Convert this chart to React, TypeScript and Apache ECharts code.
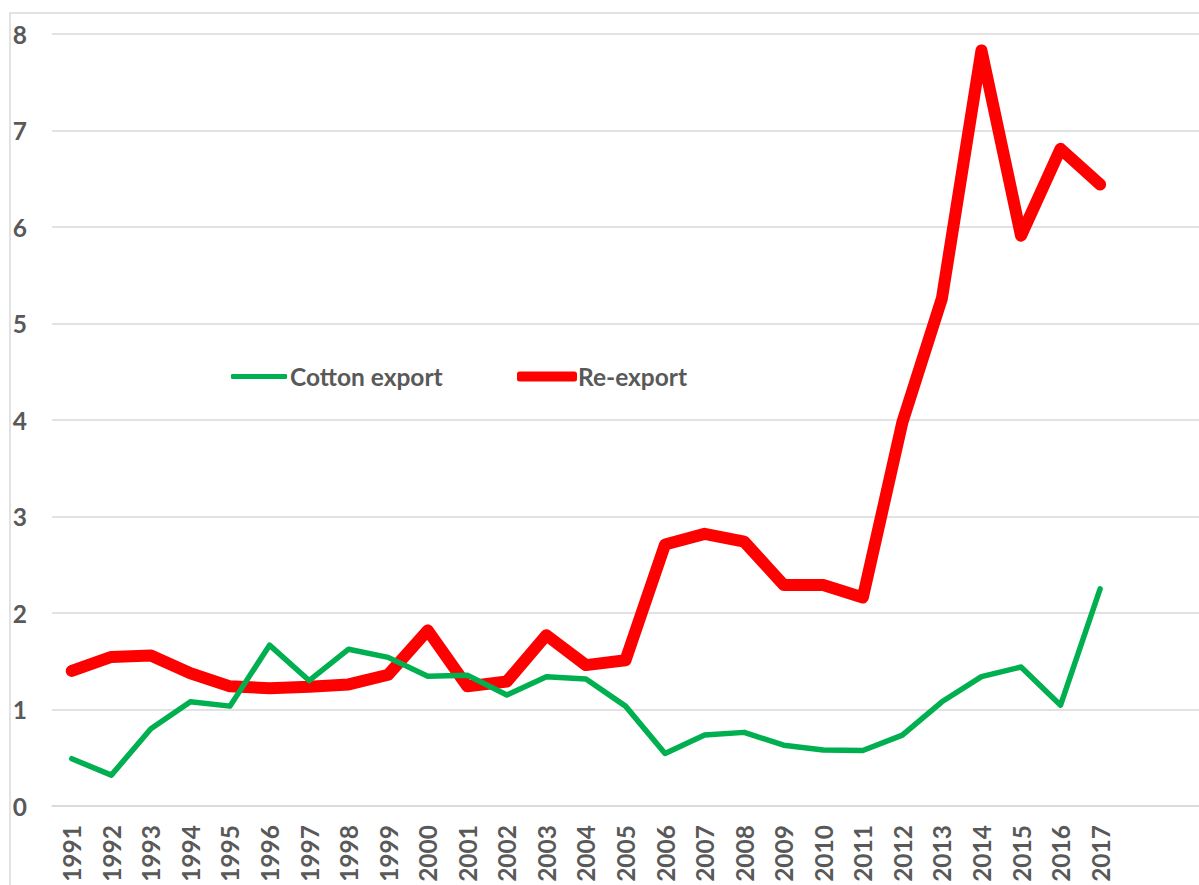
import React, { useEffect, useRef } from "react";
import * as echarts from "echarts";

const years = [
  "1991", "1992", "1993", "1994", "1995", "1996", "1997", "1998", "1999", "2000",
  "2001", "2002", "2003", "2004", "2005", "2006", "2007", "2008", "2009", "2010",
  "2011", "2012", "2013", "2014", "2015", "2016", "2017", "", "",
];

const cottonExport = [
  0.49, 0.32, 0.8, 1.08, 1.035, 1.667, 1.3, 1.625, 1.54, 1.345,
  1.356, 1.15, 1.34, 1.315, 1.035, 0.545, 0.735, 0.763, 0.63, 0.58,
  0.575, 0.735, 1.08, 1.34, 1.44, 1.045, 2.25,
];

const reExport = [
  1.4, 1.545, 1.56, 1.375, 1.24, 1.22, 1.235, 1.26, 1.36, 1.82,
  1.24, 1.29, 1.77, 1.46, 1.51, 2.71, 2.82, 2.74, 2.29, 2.29,
  2.16, 3.975, 5.26, 7.83, 5.91, 6.81, 6.44,
];

const yTicks = { min: 0, max: 8, interval: 1 };

const FONT = "Lato";
const FONT_SIZE = 24.5;
const LABEL_COLOR = "#595959";
const GRID_COLOR = "#d9d9d9";

export default function App() {
  const ref = useRef<HTMLDivElement>(null);

  useEffect(() => {
    if (!ref.current) return;
    const chart = echarts.init(ref.current, undefined, { renderer: "svg" });
    chart.setOption({
      animation: false,
      backgroundColor: "#ffffff",
      textStyle: { fontFamily: FONT },
      graphic: [
        {
          type: "rect",
          shape: { x: 10, y: 13, width: 1400, height: 1000 },
          style: { fill: "none", stroke: GRID_COLOR, lineWidth: 1.5 },
          silent: true,
          z: -1,
        },
      ],
      grid: { left: 52, top: 34, width: 1157.1, height: 772 },
      legend: [
        {
          left: 231,
          top: 364,
          padding: 0,
          icon: "roundRect",
          itemWidth: 56,
          itemHeight: 5,
          data: ["Cotton export"],
          textStyle: {
            fontFamily: FONT,
            fontWeight: "bold",
            fontSize: FONT_SIZE,
            lineHeight: 24,
            color: LABEL_COLOR,
            padding: [0, 0, 0, -2],
          },
        },
        {
          left: 517,
          top: 364,
          padding: 0,
          icon: "roundRect",
          itemWidth: 60,
          itemHeight: 10,
          data: ["Re-export"],
          textStyle: {
            fontFamily: FONT,
            fontWeight: "bold",
            fontSize: FONT_SIZE,
            lineHeight: 24,
            color: LABEL_COLOR,
            padding: [0, 0, 0, -4],
          },
        },
      ],
      xAxis: {
        type: "category",
        data: years,
        boundaryGap: true,
        axisLine: { show: true, lineStyle: { color: GRID_COLOR, width: 1.5 } },
        axisTick: { show: false },
        axisLabel: {
          rotate: 90,
          interval: 0,
          margin: 19,
          fontFamily: FONT,
          fontWeight: "bold",
          fontSize: FONT_SIZE,
          color: LABEL_COLOR,
        },
      },
      yAxis: {
        type: "value",
        min: yTicks.min,
        max: yTicks.max,
        interval: yTicks.interval,
        axisLine: { show: false },
        axisTick: { show: false },
        splitLine: { lineStyle: { color: GRID_COLOR, width: 1.5 } },
        axisLabel: {
          margin: 25,
          fontFamily: FONT,
          fontWeight: "bold",
          fontSize: FONT_SIZE,
          color: LABEL_COLOR,
        },
      },
      series: [
        {
          name: "Re-export",
          type: "line",
          data: reExport,
          symbol: "none",
          itemStyle: { color: "#ff0000" },
          lineStyle: { color: "#ff0000", width: 12, cap: "round", join: "round" },
          z: 2,
        },
        {
          name: "Cotton export",
          type: "line",
          data: cottonExport,
          symbol: "none",
          itemStyle: { color: "#00b050" },
          lineStyle: { color: "#00b050", width: 5.5, cap: "round", join: "round" },
          z: 3,
        },
      ],
    });
    return () => chart.dispose();
  }, []);

  return (
    <div
      ref={ref}
      style={{ position: "fixed", left: 0, top: 0, width: 1199, height: 885 }}
    />
  );
}
